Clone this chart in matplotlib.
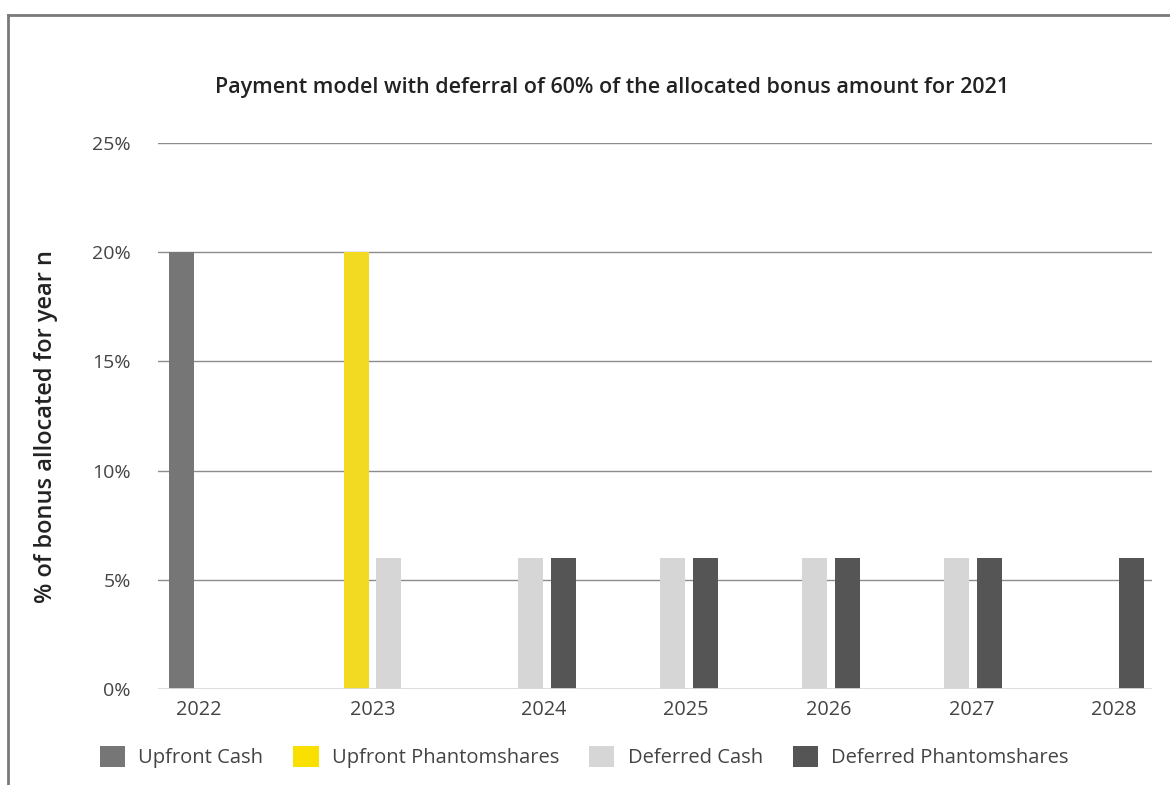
import matplotlib
matplotlib.use("Agg")
import matplotlib.pyplot as plt
from matplotlib.patches import Patch
from matplotlib.lines import Line2D
import numpy as np

plt.rcParams['font.family'] = ['Open Sans', 'DejaVu Sans']

# data
years = ['2022', '2023', '2024', '2025', '2026', '2027', '2028']
series_names = ['Upfront Cash', 'Upfront Phantomshares', 'Deferred Cash', 'Deferred Phantomshares']
upfront_cash = [20, 0, 0, 0, 0, 0, 0]
upfront_phantom = [0, 20, 0, 0, 0, 0, 0]
deferred_cash = [0, 6, 6, 6, 6, 6, 0]
deferred_phantom = [0, 0, 6, 6, 6, 6, 6]
yticks = [0, 5, 10, 15, 20, 25]

# styles
bar_colors = ['#767676', '#F2DA22', '#D6D6D6', '#555555']
legend_colors = ['#767676', '#F9E000', '#D6D6D6', '#555555']
text_col = '#444444'

slot = 0.229      # distance between bars of one group
bar_w = 0.176
label_shift = [0.12, 0.0, -0.02, -0.02, -0.015, -0.01, -0.125]  # where the year labels sit

fig = plt.figure(figsize=(11.7, 7.85), dpi=100)
ax = fig.add_axes([158/1170, 1 - 689/785, (1152-158)/1170, (689-143)/785])

x = np.arange(len(years))
all_series = [upfront_cash, upfront_phantom, deferred_cash, deferred_phantom]
for j, vals in enumerate(all_series):
    vals = np.array(vals, dtype=float)
    pos = x + (j - 1.5) * slot
    keep = vals > 0
    ax.bar(pos[keep], vals[keep], width=bar_w, color=bar_colors[j], zorder=3)

# year label = middle of the bars that exist in that year, nudged
tick_pos = []
for i in range(len(years)):
    used = [x[i] + (j - 1.5) * slot for j, vals in enumerate(all_series) if vals[i] > 0]
    tick_pos.append(np.mean(used) + label_shift[i])

ax.set_xlim(-0.51, 6.49)
ax.set_ylim(0, 25)
ax.set_xticks(tick_pos)
ax.set_xticklabels(years, fontsize=14.3, color=text_col)
ax.set_yticks(yticks)
ax.set_yticklabels(['{}%'.format(t) for t in yticks], fontsize=14, color=text_col)
ax.tick_params(axis='both', length=0)
ax.tick_params(axis='x', pad=8)
ax.tick_params(axis='y', pad=19.5)

for t in yticks[1:]:
    ax.axhline(t, color='#8C8C8C', lw=1, zorder=1)
ax.axhline(0, color='#DADADA', lw=2, zorder=4)
for s in ax.spines.values():
    s.set_visible(False)

ax.set_ylabel('% of bonus allocated for year n', fontsize=17, fontweight='semibold',
              color='#222222', labelpad=0)
ax.yaxis.set_label_coords(-0.101, 0.48)

fig.text(612/1170, 1 - 88/785, 'Payment model with deferral of 60% of the allocated bonus amount for 2021',
         ha='center', va='center', fontsize=15.5, fontweight='semibold', color='#222222')

handles = [Patch(facecolor=c, edgecolor='none') for c in legend_colors]
fig.legend(handles, series_names, loc='center left', bbox_to_anchor=(100/1170, 1 - 757/785),
           ncol=4, frameon=False, fontsize=14.5, handlelength=1.25, handleheight=1.25,
           handletextpad=0.65, columnspacing=1.5, borderpad=0, borderaxespad=0,
           labelcolor=text_col)

# frame round the picture (top and left only)
fig.add_artist(Line2D([8/1170, 1], [1 - 15/785, 1 - 15/785], color='#7A7A7A', lw=2))
fig.add_artist(Line2D([8/1170, 8/1170], [0, 1 - 15/785], color='#7A7A7A', lw=2))

fig.savefig('out.png', dpi=100, facecolor='white')
